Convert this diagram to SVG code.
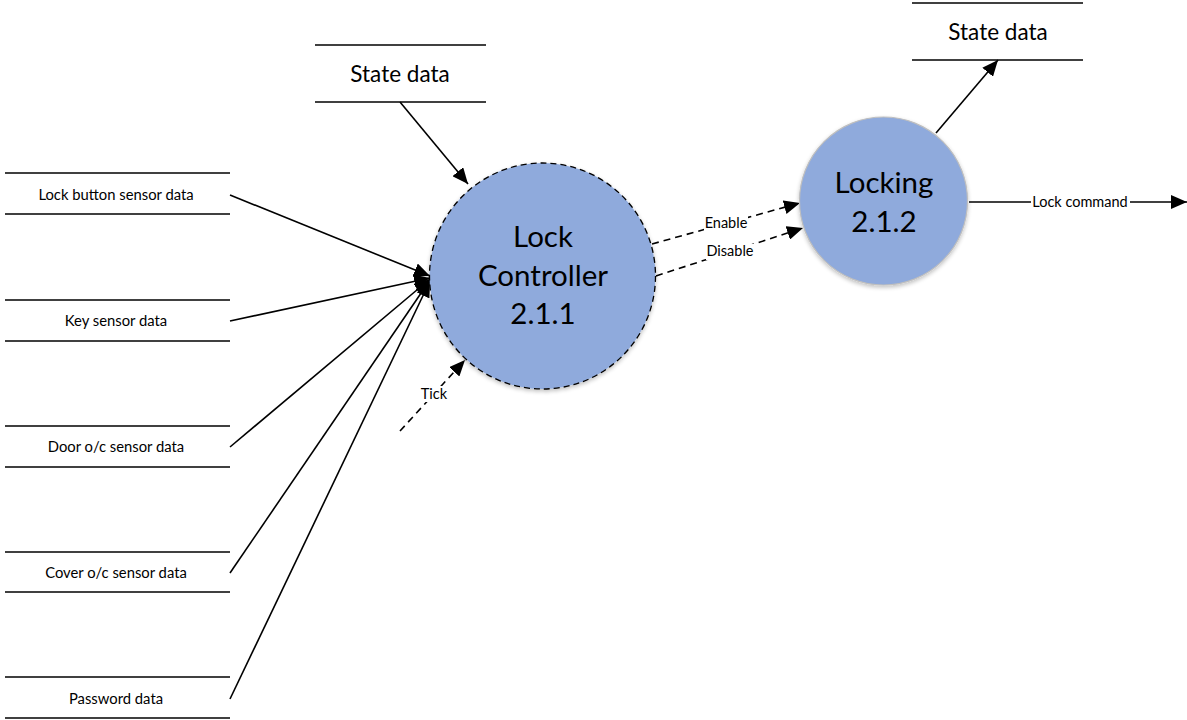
<svg xmlns="http://www.w3.org/2000/svg" width="1187" height="720" viewBox="0 0 1187 720">
<defs>
<marker id="ahb" markerWidth="16" markerHeight="14" viewBox="0 0 16 14" refX="16" refY="7" orient="auto" markerUnits="userSpaceOnUse">
<path d="M0,0 L16,7 L0,14 z" fill="#000"/>
</marker>
<filter id="sh" x="-20%" y="-20%" width="140%" height="140%">
<feGaussianBlur in="SourceAlpha" stdDeviation="2"/>
<feOffset dx="0" dy="2"/>
<feComponentTransfer><feFuncA type="linear" slope="0.25"/></feComponentTransfer>
<feMerge><feMergeNode/><feMergeNode in="SourceGraphic"/></feMerge>
</filter>
</defs>
<style>
.store{stroke:#000;stroke-width:1.5;fill:none}
.st{font-family:Lato,"Liberation Sans",sans-serif;font-size:14.8px;fill:#000;text-anchor:middle}
.sl{font-family:Lato,"Liberation Sans",sans-serif;font-size:22.5px;fill:#000;text-anchor:middle}
.big{font-family:Lato,"Liberation Sans",sans-serif;font-size:29.5px;fill:#000;text-anchor:middle}
.lbl{font-family:Lato,"Liberation Sans",sans-serif;font-size:14.5px;fill:#000;text-anchor:middle}
.flow{stroke:#000;stroke-width:1.6;fill:none;marker-end:url(#ahb)}
.dflow{stroke:#000;stroke-width:1.6;fill:none;stroke-dasharray:7,5;marker-end:url(#ahb)}
.bg{fill:#fff}
</style>
<rect width="1187" height="720" fill="#fff"/>
<g id="connectors">
<line class="flow" x1="230" y1="195" x2="430" y2="276"/>
<line class="flow" x1="230" y1="321" x2="430" y2="278"/>
<line class="flow" x1="230" y1="447" x2="430" y2="279"/>
<line class="flow" x1="230" y1="573" x2="430" y2="280"/>
<line class="flow" x1="230" y1="699" x2="430" y2="281"/>
<line class="flow" x1="400" y1="102" x2="468" y2="184"/>
<line class="dflow" x1="400" y1="431" x2="465" y2="360"/>
<line class="dflow" x1="652" y1="244" x2="800" y2="203"/>
<line class="dflow" x1="656" y1="276" x2="803" y2="228"/>
<line class="flow" x1="936" y1="133" x2="998" y2="60"/>
<line class="flow" x1="969" y1="202" x2="1187" y2="202"/>
<rect class="bg" x="1031" y="194" width="99" height="16"/>
<text class="lbl" x="1080" y="207">Lock command</text>
<rect class="bg" x="704" y="216" width="44" height="16"/>
<text class="lbl" x="726" y="228">Enable</text>
<rect class="bg" x="706" y="244" width="48" height="16"/>
<text class="lbl" x="730" y="256">Disable</text>
<rect class="bg" x="419" y="386" width="30" height="16"/>
<text class="lbl" x="434" y="399">Tick</text>
</g>
<g id="store-state1">
<line class="store" x1="315" y1="45" x2="486" y2="45"/>
<line class="store" x1="315" y1="102" x2="486" y2="102"/>
<text class="sl" x="400" y="82">State data</text>
</g>
<g id="store-state2">
<line class="store" x1="912" y1="3" x2="1083" y2="3"/>
<line class="store" x1="912" y1="60" x2="1083" y2="60"/>
<text class="sl" x="998" y="40">State data</text>
</g>
<g id="store-lockbutton">
<line class="store" x1="5" y1="173" x2="230" y2="173"/>
<line class="store" x1="5" y1="214" x2="230" y2="214"/>
<text class="st" x="116" y="200">Lock button sensor data</text>
</g>
<g id="store-key">
<line class="store" x1="5" y1="300" x2="230" y2="300"/>
<line class="store" x1="5" y1="341" x2="230" y2="341"/>
<text class="st" x="116" y="326">Key sensor data</text>
</g>
<g id="store-door">
<line class="store" x1="5" y1="426" x2="230" y2="426"/>
<line class="store" x1="5" y1="467" x2="230" y2="467"/>
<text class="st" x="116" y="452">Door o/c sensor data</text>
</g>
<g id="store-cover">
<line class="store" x1="5" y1="552" x2="230" y2="552"/>
<line class="store" x1="5" y1="592" x2="230" y2="592"/>
<text class="st" x="116" y="578">Cover o/c sensor data</text>
</g>
<g id="store-password">
<line class="store" x1="5" y1="677" x2="230" y2="677"/>
<line class="store" x1="5" y1="718" x2="230" y2="718"/>
<text class="st" x="116" y="704">Password data</text>
</g>
<g id="lock-controller">
<circle cx="542.5" cy="276" r="113" fill="#8faadc" stroke="#000" stroke-width="1.3" stroke-dasharray="6,4" filter="url(#sh)"/>
<text class="big" x="543" y="247">Lock</text>
<text class="big" x="543" y="286">Controller</text>
<text class="big" x="543" y="324">2.1.1</text>
</g>
<g id="locking">
<circle cx="883.5" cy="201" r="84" fill="#8faadc" stroke="#bfbfbf" stroke-width="1.2" filter="url(#sh)"/>
<text class="big" x="884" y="193">Locking</text>
<text class="big" x="884" y="232">2.1.2</text>
</g>
</svg>
